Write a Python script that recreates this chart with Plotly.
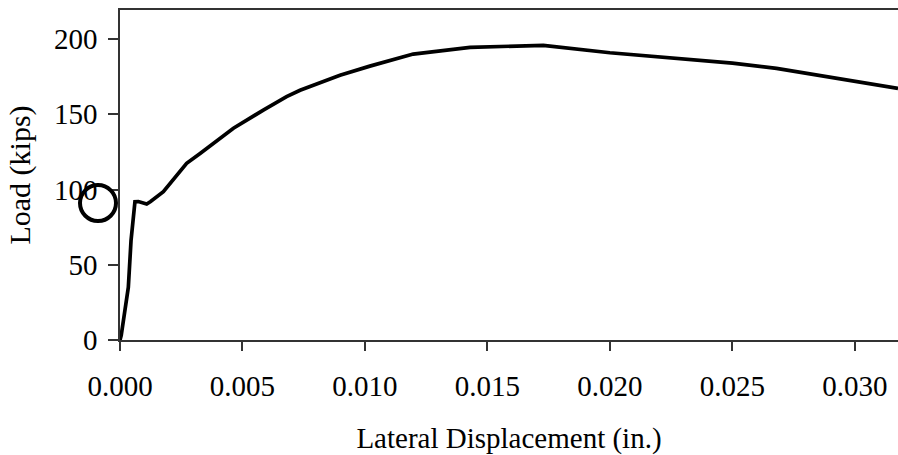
import plotly.graph_objects as go

# Data
displacement = [0.0, 0.00005, 0.00034, 0.00041, 0.00045, 0.00061, 0.00075, 0.00109, 0.00125,
                0.00177, 0.00272, 0.00327, 0.00463, 0.00585, 0.0068, 0.00735, 0.00898, 0.0102,
                0.01197, 0.01429, 0.01565, 0.01728, 0.0200, 0.0250, 0.0268, 0.03176]
load = [0, 3, 35, 62, 66, 91.9, 92, 90.4, 92,
        98.5, 117.4, 124, 140.7, 152.8, 161.7, 166, 176, 182,
        190, 194.5, 195.3, 195.8, 190.9, 184, 180.5, 167.2]

x_ticks = [0.000, 0.005, 0.010, 0.015, 0.020, 0.025, 0.030]
x_ticklabels = ["0.000", "0.005", "0.010", "0.015", "0.020", "0.025", "0.030"]
y_ticks = [0, 50, 100, 150, 200]

font_family = "Liberation Serif, Times New Roman, serif"

fig = go.Figure()
fig.add_trace(go.Scatter(x=displacement, y=load, mode="lines",
                         line=dict(color="black", width=3.7), showlegend=False,
                         hoverinfo="skip"))

fig.update_layout(
    width=898, height=455,
    margin=dict(l=120, r=0, t=10, b=115),
    paper_bgcolor="white", plot_bgcolor="white",
    font=dict(family=font_family, size=29, color="black"),
    xaxis=dict(range=[0, 0.03176], tickvals=x_ticks, ticktext=x_ticklabels,
               showgrid=False, zeroline=False, showline=True, linecolor="#333",
               linewidth=1.5, mirror=True, ticks="outside", ticklen=9, tickwidth=1.5,
               tickcolor="#333", ticklabelstandoff=10,
               title=dict(text="Lateral Displacement (in.)", standoff=30,
                          font=dict(size=29))),
    yaxis=dict(range=[0, 219.3], tickvals=y_ticks, showgrid=False, zeroline=False,
               showline=True, linecolor="#333", linewidth=1.5, ticks="outside",
               ticklen=10, tickwidth=1.5, tickcolor="#333", ticklabelstandoff=5,
               title=dict(text="Load (kips)", standoff=14, font=dict(size=30))),
    shapes=[dict(type="circle", xref="paper", yref="paper",
                 xsizemode="pixel", ysizemode="pixel",
                 xanchor=0, yanchor=0.415, x0=-40, x1=-4, y0=-18, y1=18,
                 line=dict(color="black", width=4))],
)

fig.write_html(
    "out.html",
    config={"displayModeBar": False},
    post_script="document.documentElement.style.overflow='hidden';"
                "document.body.style.margin='0';document.body.style.overflow='hidden';",
)
